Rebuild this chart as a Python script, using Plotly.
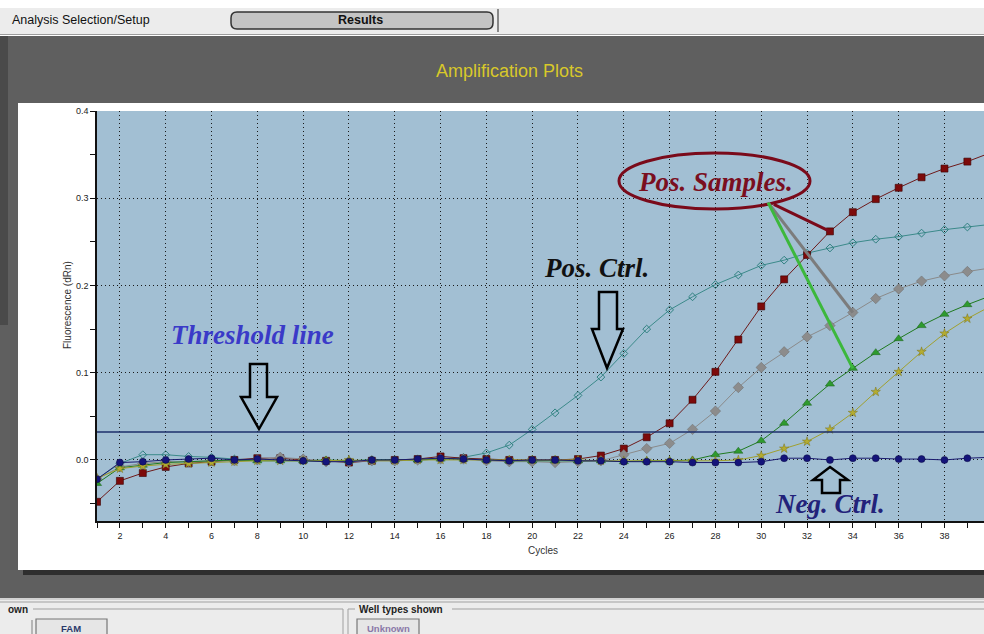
import plotly.graph_objects as go

# ---- amplification data (dRn per cycle) ----
cycles = list(range(1, 41))

pos_ctrl = [-0.022, -0.004, 0.006, 0.006, 0.004, 0.003, 0.001, 0.000, 0.000, -0.001,
            -0.002, -0.001, 0.000, 0.000, 0.000, 0.001, 0.003, 0.008, 0.017, 0.035,
            0.054, 0.074, 0.095, 0.122, 0.150, 0.172, 0.187, 0.201, 0.212, 0.223,
            0.229, 0.237, 0.243, 0.249, 0.253, 0.256, 0.260, 0.264, 0.267, 0.270]

sample_a = [-0.048, -0.024, -0.015, -0.008, -0.004, -0.002, 0.000, 0.002, 0.002, 0.000,
            -0.001, -0.003, -0.001, 0.000, 0.001, 0.004, 0.002, 0.001, 0.000, 0.000,
            0.000, 0.001, 0.005, 0.013, 0.026, 0.042, 0.069, 0.101, 0.138, 0.176,
            0.207, 0.235, 0.262, 0.284, 0.299, 0.312, 0.324, 0.334, 0.342, 0.352]

sample_b = [-0.022, -0.008, -0.004, -0.002, -0.002, -0.001, -0.001, 0.000, 0.003, 0.001,
            -0.002, -0.002, -0.001, -0.001, 0.000, 0.001, 0.001, -0.001, -0.002, -0.002,
            -0.003, -0.002, -0.001, 0.006, 0.013, 0.019, 0.035, 0.056, 0.083, 0.106,
            0.124, 0.141, 0.154, 0.169, 0.185, 0.196, 0.205, 0.211, 0.216, 0.220]

sample_c = [-0.027, -0.009, -0.006, -0.003, -0.002, -0.001, 0.000, -0.001, -0.001, -0.001,
            0.000, -0.001, 0.000, 0.000, 0.000, 0.001, 0.001, 0.000, -0.001, -0.001,
            -0.001, -0.001, -0.001, -0.002, -0.001, -0.001, 0.000, 0.006, 0.010, 0.022,
            0.042, 0.065, 0.087, 0.105, 0.123, 0.139, 0.154, 0.167, 0.178, 0.188]

sample_d = [-0.021, -0.010, -0.007, -0.005, -0.004, -0.003, -0.002, -0.001, -0.001, -0.001,
            -0.001, 0.000, -0.001, -0.001, 0.000, 0.000, 0.000, 0.000, 0.000, 0.000,
            0.000, 0.000, -0.001, -0.001, -0.001, -0.001, -0.001, -0.001, 0.000, 0.005,
            0.013, 0.021, 0.035, 0.054, 0.078, 0.101, 0.124, 0.145, 0.162, 0.176]

neg_ctrl = [-0.022, -0.003, -0.002, 0.000, 0.001, 0.002, 0.000, 0.001, 0.000, -0.001,
            -0.002, -0.002, 0.000, 0.000, 0.001, 0.002, 0.001, 0.000, -0.001, 0.000,
            0.000, -0.001, -0.001, -0.002, -0.002, -0.002, -0.003, -0.003, -0.003, -0.002,
            0.002, 0.002, 0.000, 0.002, 0.002, 0.001, 0.001, 0.000, 0.002, 0.003]

threshold = 0.032

x_tick_vals = list(range(2, 40, 2))
x_minor_vals = list(range(1, 41, 2))
y_tick_vals = [0.0, 0.1, 0.2, 0.3, 0.4]
y_tick_text = ["0.0", "0.1", "0.2", "0.3", "0.4"]
y_minor_vals = [-0.05, 0.05, 0.15, 0.25, 0.35]

# ---- page geometry (pixels) ----
W, H = 984, 634
L, R, T, B = 97, 984, 111, 521


def px(x):
    return (x - L) / (R - L)


def py(y):
    return (B - y) / (B - T)


def rect(x0, y0, x1, y1, fill, line=None, lw=0, layer="below"):
    return dict(type="rect", xref="paper", yref="paper",
                x0=px(x0), x1=px(x1), y0=py(y1), y1=py(y0),
                fillcolor=fill, line=dict(color=line or fill, width=lw), layer=layer)


def hline(x0, x1, y, color, lw=1):
    return dict(type="line", xref="paper", yref="paper",
                x0=px(x0), x1=px(x1), y0=py(y), y1=py(y),
                line=dict(color=color, width=lw), layer="below")


def vline(x, y0, y1, color, lw=1):
    return dict(type="line", xref="paper", yref="paper",
                x0=px(x), x1=px(x), y0=py(y0), y1=py(y1),
                line=dict(color=color, width=lw), layer="below")


def poly(points, color="black", lw=2.5):
    d = "M " + " L ".join(f"{px(a):.5f},{py(b):.5f}" for a, b in points) + " Z"
    return dict(type="path", xref="paper", yref="paper", path=d,
                line=dict(color=color, width=lw), fillcolor="rgba(0,0,0,0)", layer="above")


def rounded(x0, y0, x1, y1, r, fill, line, lw):
    pts = [
        f"M {px(x0 + r):.5f},{py(y0):.5f}",
        f"L {px(x1 - r):.5f},{py(y0):.5f}",
        f"Q {px(x1):.5f},{py(y0):.5f} {px(x1):.5f},{py(y0 + r):.5f}",
        f"L {px(x1):.5f},{py(y1 - r):.5f}",
        f"Q {px(x1):.5f},{py(y1):.5f} {px(x1 - r):.5f},{py(y1):.5f}",
        f"L {px(x0 + r):.5f},{py(y1):.5f}",
        f"Q {px(x0):.5f},{py(y1):.5f} {px(x0):.5f},{py(y1 - r):.5f}",
        f"L {px(x0):.5f},{py(y0 + r):.5f}",
        f"Q {px(x0):.5f},{py(y0):.5f} {px(x0 + r):.5f},{py(y0):.5f} Z",
    ]
    return dict(type="path", xref="paper", yref="paper", path=" ".join(pts),
                fillcolor=fill, line=dict(color=line, width=lw), layer="below")


fig = go.Figure()

series = [
    ("Pos. Ctrl", pos_ctrl, "#3b8a8a", dict(symbol="diamond-open", size=6, color="#2f8080",
                                            line=dict(width=1, color="#2f8080"))),
    ("Sample A", sample_a, "#6e1a1a", dict(symbol="square", size=7, color="#7d0a0a",
                                           line=dict(width=0.6, color="#3a0000"))),
    ("Sample B", sample_b, "#8a8a8a", dict(symbol="diamond", size=8, color="#8c8c8c",
                                           line=dict(width=0.5, color="#6a6a6a"))),
    ("Sample C", sample_c, "#1f7a1f", dict(symbol="triangle-up", size=8, color="#2e9a2e",
                                           line=dict(width=0.5, color="#1a5e1a"))),
    ("Sample D", sample_d, "#a0a030", dict(symbol="star", size=7, color="#b4ac30",
                                           line=dict(width=0.5, color="#7a7420"))),
    ("Neg. Ctrl", neg_ctrl, "#1a1a6e", dict(symbol="circle", size=7, color="#14147a",
                                            line=dict(width=0.5, color="#0a0a40"))),
]
for name, ys, lc, mk in series:
    fig.add_trace(go.Scatter(x=cycles, y=ys, name=name, mode="lines+markers",
                             line=dict(color=lc, width=1), marker=mk,
                             showlegend=False, hoverinfo="x+y+name"))

shapes = [
    # application chrome
    rect(0, 8, 984, 35, "#ececec"),
    hline(0, 984, 34.5, "#9c9c9c", 1),
    rect(0, 36, 984, 598, "#5f5f5f"),
    rect(0, 36, 8, 325, "#4a4a4a"),
    rect(18, 103, 984, 570, "#ffffff"),
    rect(23, 570, 984, 575, "#2e2e2e"),
    rect(0, 598, 984, 634, "#ececec"),
    hline(0, 984, 599, "#b8b8b8", 1),
    hline(0, 984, 602, "#a0a0a0", 1),
    hline(33, 343, 609, "#a0a0a0", 1),
    vline(343, 609, 634, "#a0a0a0", 1),
    hline(348, 355, 609, "#a0a0a0", 1),
    hline(452, 984, 609, "#a0a0a0", 1),
    vline(348, 609, 634, "#a0a0a0", 1),
    vline(32, 620, 634, "#808080", 1),
    rect(36, 619, 107, 640, "#e6e6e6", "#777777", 1.2),
    rect(357, 619, 419, 640, "#e6e6e6", "#777777", 1.2),
    rounded(231, 12, 493, 29, 6, "#c4c4c4", "#333333", 1.5),
    vline(498, 9, 32, "#666666", 1.5),
    # plot area background
    dict(type="rect", xref="paper", yref="paper", x0=0, x1=1, y0=0, y1=1,
         fillcolor="#a2bfd3", line=dict(width=0), layer="below"),
    # threshold line
    dict(type="line", xref="paper", yref="y", x0=0, x1=1, y0=threshold, y1=threshold,
         line=dict(color="#1c2f6b", width=1.6), layer="above"),
    # hollow arrows
    poly([(250, 364), (267, 364), (267, 397), (277, 397), (259, 429), (241, 397), (250, 397)]),
    poly([(599, 292), (617, 292), (617, 329), (623, 329), (607, 368), (592, 329), (599, 329)]),
    poly([(830, 467), (848, 480), (840, 480), (840, 493), (822, 493), (822, 480), (813, 480)]),
    # callout ellipse
    dict(type="circle", xref="paper", yref="paper", x0=px(619), x1=px(810),
         y0=py(209), y1=py(153), line=dict(color="#7a0a1a", width=3),
         fillcolor="rgba(0,0,0,0)", layer="above"),
]

# leader lines from the callout to one point on each positive sample
tail_x, tail_y = 30.3, 0.295
for cyc, ys, col, tx in [(33, sample_a, "#7a0a1a", 30.55), (34, sample_b, "#7c7c7c", tail_x),
                         (34, sample_c, "#3cb83c", tail_x)]:
    shapes.append(dict(type="line", xref="x", yref="y", x0=tx, y0=tail_y - (0.002 if tx != tail_x else 0),
                       x1=cyc, y1=ys[cyc - 1], line=dict(color=col, width=3), layer="above"))

label_font = "Liberation Serif"


def pa(x, y, text, size, color, family="Liberation Sans", xanchor="center", angle=0):
    return dict(xref="paper", yref="paper", x=px(x), y=py(y), text=text, showarrow=False,
                xanchor=xanchor, yanchor="middle", textangle=angle,
                font=dict(family=family, size=size, color=color))


annotations = [
    pa(509, 71, "Amplification Plots", 18, "#d8c82a"),
    pa(10, 20, "Analysis Selection/Setup", 12.5, "#111111", xanchor="left"),
    pa(360, 20, "<b>Results</b>", 12.5, "#111111"),
    pa(30, 609, "<b>own</b>", 10, "#222222", xanchor="right"),
    pa(357, 609, "<b>Well types shown</b>", 10, "#222222", xanchor="left"),
    pa(71, 628, "<b>FAM</b>", 9.5, "#2a3a6a"),
    pa(388, 628, "<b>Unknown</b>", 9.5, "#8a78a8"),
    pa(67, 305, "Fluorescence (dRn)", 10, "#333333", angle=-90),
    pa(543, 550, "Cycles", 10, "#333333"),
    pa(252, 335, "<b><i>Threshold line</i></b>", 27, "#3a3ac8", family=label_font),
    pa(596, 268, "<b><i>Pos. Ctrl.</i></b>", 27, "#111111", family=label_font),
    pa(715, 182, "<b><i>Pos. Samples.</i></b>", 27, "#7a0f1f", family=label_font),
    pa(830, 504, "<b><i>Neg. Ctrl.</i></b>", 27, "#22227a", family=label_font),
]

grid = dict(showgrid=True, gridcolor="#1a1a1a", griddash="1px,3px", gridwidth=1)

fig.update_layout(
    width=W, height=H,
    margin=dict(l=L, r=W - R, t=T, b=H - B),
    paper_bgcolor="#ffffff",
    plot_bgcolor="rgba(0,0,0,0)",
    shapes=shapes,
    annotations=annotations,
    xaxis=dict(range=[1, 1 + (R - 96.4) / 22.92], tickmode="array", tickvals=x_tick_vals,
               ticks="outside", ticklen=5, tickcolor="#111111", tickwidth=1,
               showline=True, linecolor="#111111", linewidth=1.5, zeroline=False,
               tickfont=dict(family="Liberation Sans", size=9, color="#222222"),
               minor=dict(tickmode="array", tickvals=x_minor_vals, ticks="outside",
                          ticklen=5, tickcolor="#111111", showgrid=False),
               **grid),
    yaxis=dict(range=[-0.07, 0.4], tickmode="array", tickvals=y_tick_vals, ticktext=y_tick_text,
               ticks="outside", ticklen=5, tickcolor="#111111", tickwidth=1,
               showline=True, linecolor="#111111", linewidth=1.5, zeroline=False,
               tickfont=dict(family="Liberation Sans", size=9, color="#222222"),
               minor=dict(tickmode="array", tickvals=y_minor_vals, ticks="outside",
                          ticklen=5, tickcolor="#111111", showgrid=False),
               **grid),
)

fig.write_html("out.html")
